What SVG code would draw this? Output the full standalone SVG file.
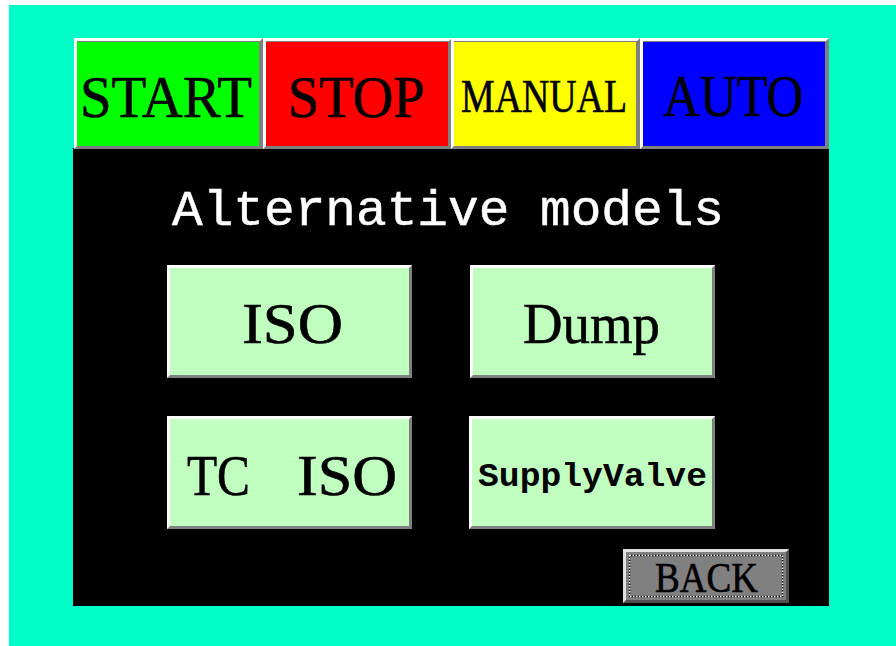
<svg xmlns="http://www.w3.org/2000/svg" width="896" height="646" viewBox="0 0 896 646">
<style>
.sh{fill:#808080}
.hl{fill:#ffffff}
.lbl{font-family:"Liberation Serif","Times New Roman",serif;fill:#000;stroke:#000;stroke-width:0.6;text-anchor:start}
.mono{font-family:"Liberation Mono","Courier New",monospace}
.mg{fill:#c0ffc0}
</style>
<rect x="0" y="0" width="896" height="646" fill="#ffffff"/>
<rect x="9" y="5" width="887" height="641" fill="#00ffc6"/>
<rect x="73" y="148" width="756" height="458" fill="#000"/>

<g id="btn-start">
<rect x="74" y="38" width="189" height="111" class="sh"/>
<polygon points="74,38 263,38 260,41 77,41 77,146 74,149" class="hl"/>
<rect x="77" y="42" width="182" height="104" fill="#00ff00"/>
<text x="80" y="117" class="lbl" font-size="60" textLength="172" lengthAdjust="spacingAndGlyphs">START</text>
</g>
<g id="btn-stop">
<rect x="263" y="38" width="189" height="111" class="sh"/>
<polygon points="263,38 452,38 449,41 266,41 266,146 263,149" class="hl"/>
<rect x="266" y="42" width="182" height="104" fill="#ff0000"/>
<text x="288" y="117" class="lbl" font-size="60" textLength="137" lengthAdjust="spacingAndGlyphs">STOP</text>
</g>
<g id="btn-manual">
<rect x="451" y="38" width="189" height="111" class="sh"/>
<polygon points="451,38 640,38 637,41 454,41 454,146 451,149" class="hl"/>
<rect x="454" y="42" width="182" height="104" fill="#ffff00"/>
<text x="461" y="112" class="lbl" font-size="47" textLength="166" lengthAdjust="spacingAndGlyphs">MANUAL</text>
</g>
<g id="btn-auto">
<rect x="640" y="38" width="189" height="111" class="sh"/>
<polygon points="640,38 829,38 826,41 643,41 643,146 640,149" class="hl"/>
<rect x="643" y="42" width="182" height="104" fill="#0000ff"/>
<text x="663" y="116" class="lbl" font-size="60" textLength="140" lengthAdjust="spacingAndGlyphs">AUTO</text>
</g>

<g id="title">
<text x="172" y="225" class="mono" font-size="50" fill="#ffffff" stroke="#ffffff" stroke-width="0.5" textLength="552" lengthAdjust="spacingAndGlyphs">Alternative models</text>
</g>

<g id="btn-iso">
<rect x="167" y="265" width="245" height="113" class="sh"/>
<polygon points="167,265 412,265 409,268 170,268 170,375 167,378" class="hl"/>
<rect x="170" y="268" width="239" height="107" class="mg"/>
<text x="242" y="343" class="lbl" font-size="57" textLength="101" lengthAdjust="spacingAndGlyphs">ISO</text>
</g>
<g id="btn-dump">
<rect x="470" y="265" width="245" height="113" class="sh"/>
<polygon points="470,265 715,265 712,268 473,268 473,375 470,378" class="hl"/>
<rect x="473" y="268" width="239" height="107" class="mg"/>
<text x="523" y="343" class="lbl" font-size="57" textLength="137" lengthAdjust="spacingAndGlyphs">Dump</text>
</g>
<g id="btn-tciso">
<rect x="167" y="416" width="245" height="113" class="sh"/>
<polygon points="167,416 412,416 409,419 170,419 170,526 167,529" class="hl"/>
<rect x="170" y="419" width="239" height="107" class="mg"/>
<text x="187" y="495" class="lbl" font-size="57" textLength="63" lengthAdjust="spacingAndGlyphs">TC</text>
<text x="297" y="495" class="lbl" font-size="57" textLength="100" lengthAdjust="spacingAndGlyphs">ISO</text>
</g>
<g id="btn-supplyvalve">
<rect x="469" y="416" width="246" height="113" class="sh"/>
<polygon points="469,416 715,416 712,419 472,419 472,526 469,529" class="hl"/>
<rect x="472" y="419" width="240" height="107" class="mg"/>
<text x="478" y="486" class="mono" font-size="34" font-weight="bold" fill="#000" textLength="229" lengthAdjust="spacingAndGlyphs">SupplyValve</text>
</g>

<g id="btn-back">
<rect x="623" y="549" width="166" height="54" fill="#505050"/>
<polygon points="623,549 789,549 786,552 626,552 626,600 623,603" fill="#e0e0e0"/>
<rect x="626" y="552" width="160" height="48" fill="#808080"/>
<rect x="629.5" y="555.5" width="153" height="41" fill="none" stroke="#000" stroke-width="1.5"/>
<rect x="629.5" y="555.5" width="153" height="41" fill="none" stroke="#fff" stroke-width="1.5" stroke-dasharray="1.5 1.5"/>
<text x="655" y="592" class="lbl" font-size="42" fill="#101028" stroke="#101028" textLength="103" lengthAdjust="spacingAndGlyphs">BACK</text>
</g>
</svg>
